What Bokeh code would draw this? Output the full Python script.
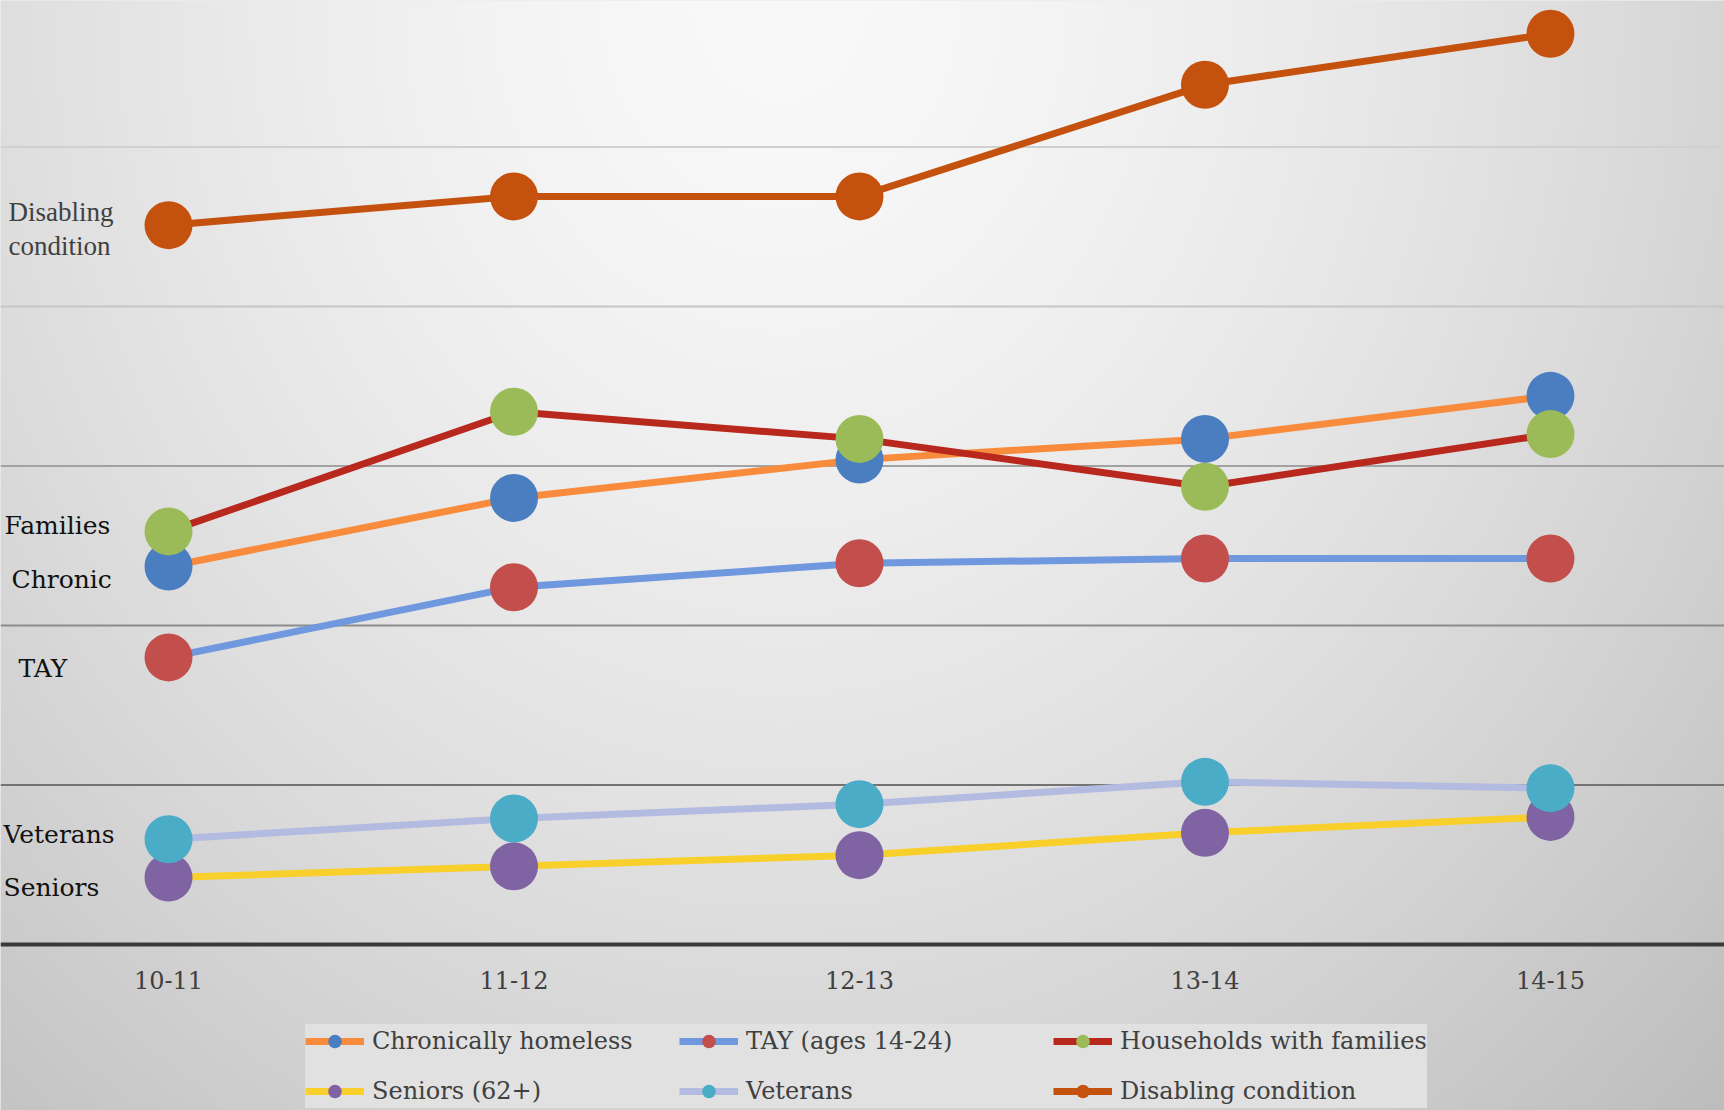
import numpy as np
from bokeh.plotting import figure
from bokeh.models import Range1d, FixedTicker, Span, Label, Legend, LegendItem
from bokeh.embed import file_html
from bokeh.resources import INLINE

# Fiscal years and series values (percent of the counted population)
years = ["10-11", "11-12", "12-13", "13-14", "14-15"]
chronic = [23.7, 28.0, 30.4, 31.7, 34.4]
tay = [18.0, 22.4, 23.9, 24.2, 24.2]
families = [25.9, 33.4, 31.7, 28.7, 32.0]
seniors = [4.2, 4.9, 5.6, 7.0, 8.0]
veterans = [6.6, 7.9, 8.8, 10.2, 9.8]
disabling = [45.1, 46.9, 46.9, 53.9, 57.1]

series_names = ["Chronically homeless", "TAY (ages 14-24)", "Households with families",
                "Seniors (62+)", "Veterans", "Disabling condition"]
series_values = [chronic, tay, families, seniors, veterans, disabling]
line_colors = ["#F98C3C", "#6F98DE", "#B8281C", "#F9CF2C", "#B3BBE0", "#C4520E"]
marker_colors = ["#4A7EC0", "#C24F4C", "#9ABB58", "#7F63A3", "#4AACC6", "#C4520E"]

gridlines = [10, 20, 30, 40, 50]
grid_colors = ["#737373", "#8c8c8c", "#a2a2a2", "#c6c6c6", "#d0d0d0"]

side_labels = ["Disabling", "condition", "Families", "Chronic", "TAY", "Veterans", "Seniors"]
side_label_y = [45.9, 43.8, 26.3, 22.9, 17.3, 6.9, 3.6]
side_label_x = [8, 8, 4, 11, 18, 3, 3]
side_label_colors = ["#404040", "#404040", "#111111", "#111111", "#111111", "#111111", "#111111"]
side_label_fonts = ["Liberation Serif", "Liberation Serif", "DejaVu Serif", "DejaVu Serif",
                    "DejaVu Serif", "DejaVu Serif", "DejaVu Serif"]
side_label_sizes = ["27px", "27px", "25px", "25px", "25px", "25px", "25px"]

W, H = 1724, 1110
BASE_PX = 944          # pixel row of the zero line
PX_PER_UNIT = 15.95
X0, X1 = -0.4863, 4.5037
Y0 = -(H - BASE_PX) / PX_PER_UNIT
Y1 = BASE_PX / PX_PER_UNIT

xs = list(range(len(years)))

p = figure(width=W, height=H, output_backend="svg", toolbar_location=None,
           x_range=Range1d(X0, X1), y_range=Range1d(Y0, Y1),
           y_axis_location=None,
           min_border_left=0, min_border_right=0, min_border_top=0, min_border_bottom=0,
           border_fill_color="#d4d4d4", background_fill_color="#dcdcdc",
           outline_line_color=None)
p.grid.visible = False

# soft radial backdrop, light near the top centre and darker toward the edges
ny, nx = 278, 431
px_x = (np.arange(nx) + 0.5) * W / nx
px_y_top = H - (np.arange(ny) + 0.5) * H / ny
gx, gy = np.meshgrid(px_x, px_y_top)
d = np.sqrt(((gx - 780) / 862.0) ** 2 + (gy / (0.9 * H)) ** 2)
v = np.clip(249 - 31 * d ** 1.5, 0, 255).astype(np.uint8)
img = np.empty((ny, nx), dtype=np.uint32)
view = img.view(dtype=np.uint8).reshape((ny, nx, 4))
view[:, :, 0] = v
view[:, :, 1] = v
view[:, :, 2] = v
view[:, :, 3] = 255
p.image_rgba(image=[img], x=X0, y=Y0, dw=X1 - X0, dh=Y1 - Y0, level="image")

for g, c in zip(gridlines, grid_colors):
    p.add_layout(Span(location=g, dimension="width", line_color=c, line_width=2, level="underlay"))

# x axis pinned at zero; its line is the dark baseline
ax = p.xaxis[0]
ax.fixed_location = 0
ax.ticker = FixedTicker(ticks=xs)
ax.major_label_overrides = {i: y for i, y in zip(xs, years)}
ax.axis_line_color = "#3a3a3a"
ax.axis_line_width = 4
ax.major_tick_line_color = None
ax.minor_tick_line_color = None
ax.major_label_standoff = 20
ax.major_label_text_font = "DejaVu Serif"
ax.major_label_text_font_size = "24px"
ax.major_label_text_color = "#404040"

items = []
for name, vals, lc, mc in zip(series_names, series_values, line_colors, marker_colors):
    ln = p.line(xs, vals, line_color=lc, line_width=7)
    pts = p.scatter(xs, vals, size=48, fill_color=mc, line_color=None)
    items.append(LegendItem(label=name, renderers=[ln, pts]))

legend = Legend(items=items, location=(305, 2), ncols=3, orientation="horizontal",
                glyph_width=59, glyph_height=34, label_standoff=8, label_width=291,
                spacing=16, padding=5, margin=0,
                background_fill_color="#e1e1e1", background_fill_alpha=1.0,
                border_line_color=None,
                label_text_font="DejaVu Serif", label_text_font_size="24px",
                label_text_color="#404040")
p.add_layout(legend)

for txt, yv, xv, col, fnt, fs in zip(side_labels, side_label_y, side_label_x,
                                     side_label_colors, side_label_fonts, side_label_sizes):
    p.add_layout(Label(x=xv, y=yv, x_units="screen", y_units="data", text=txt,
                       text_font=fnt, text_font_size=fs,
                       text_color=col, text_baseline="middle", text_align="left"))

open("out.html", "w").write(file_html(p, INLINE))
